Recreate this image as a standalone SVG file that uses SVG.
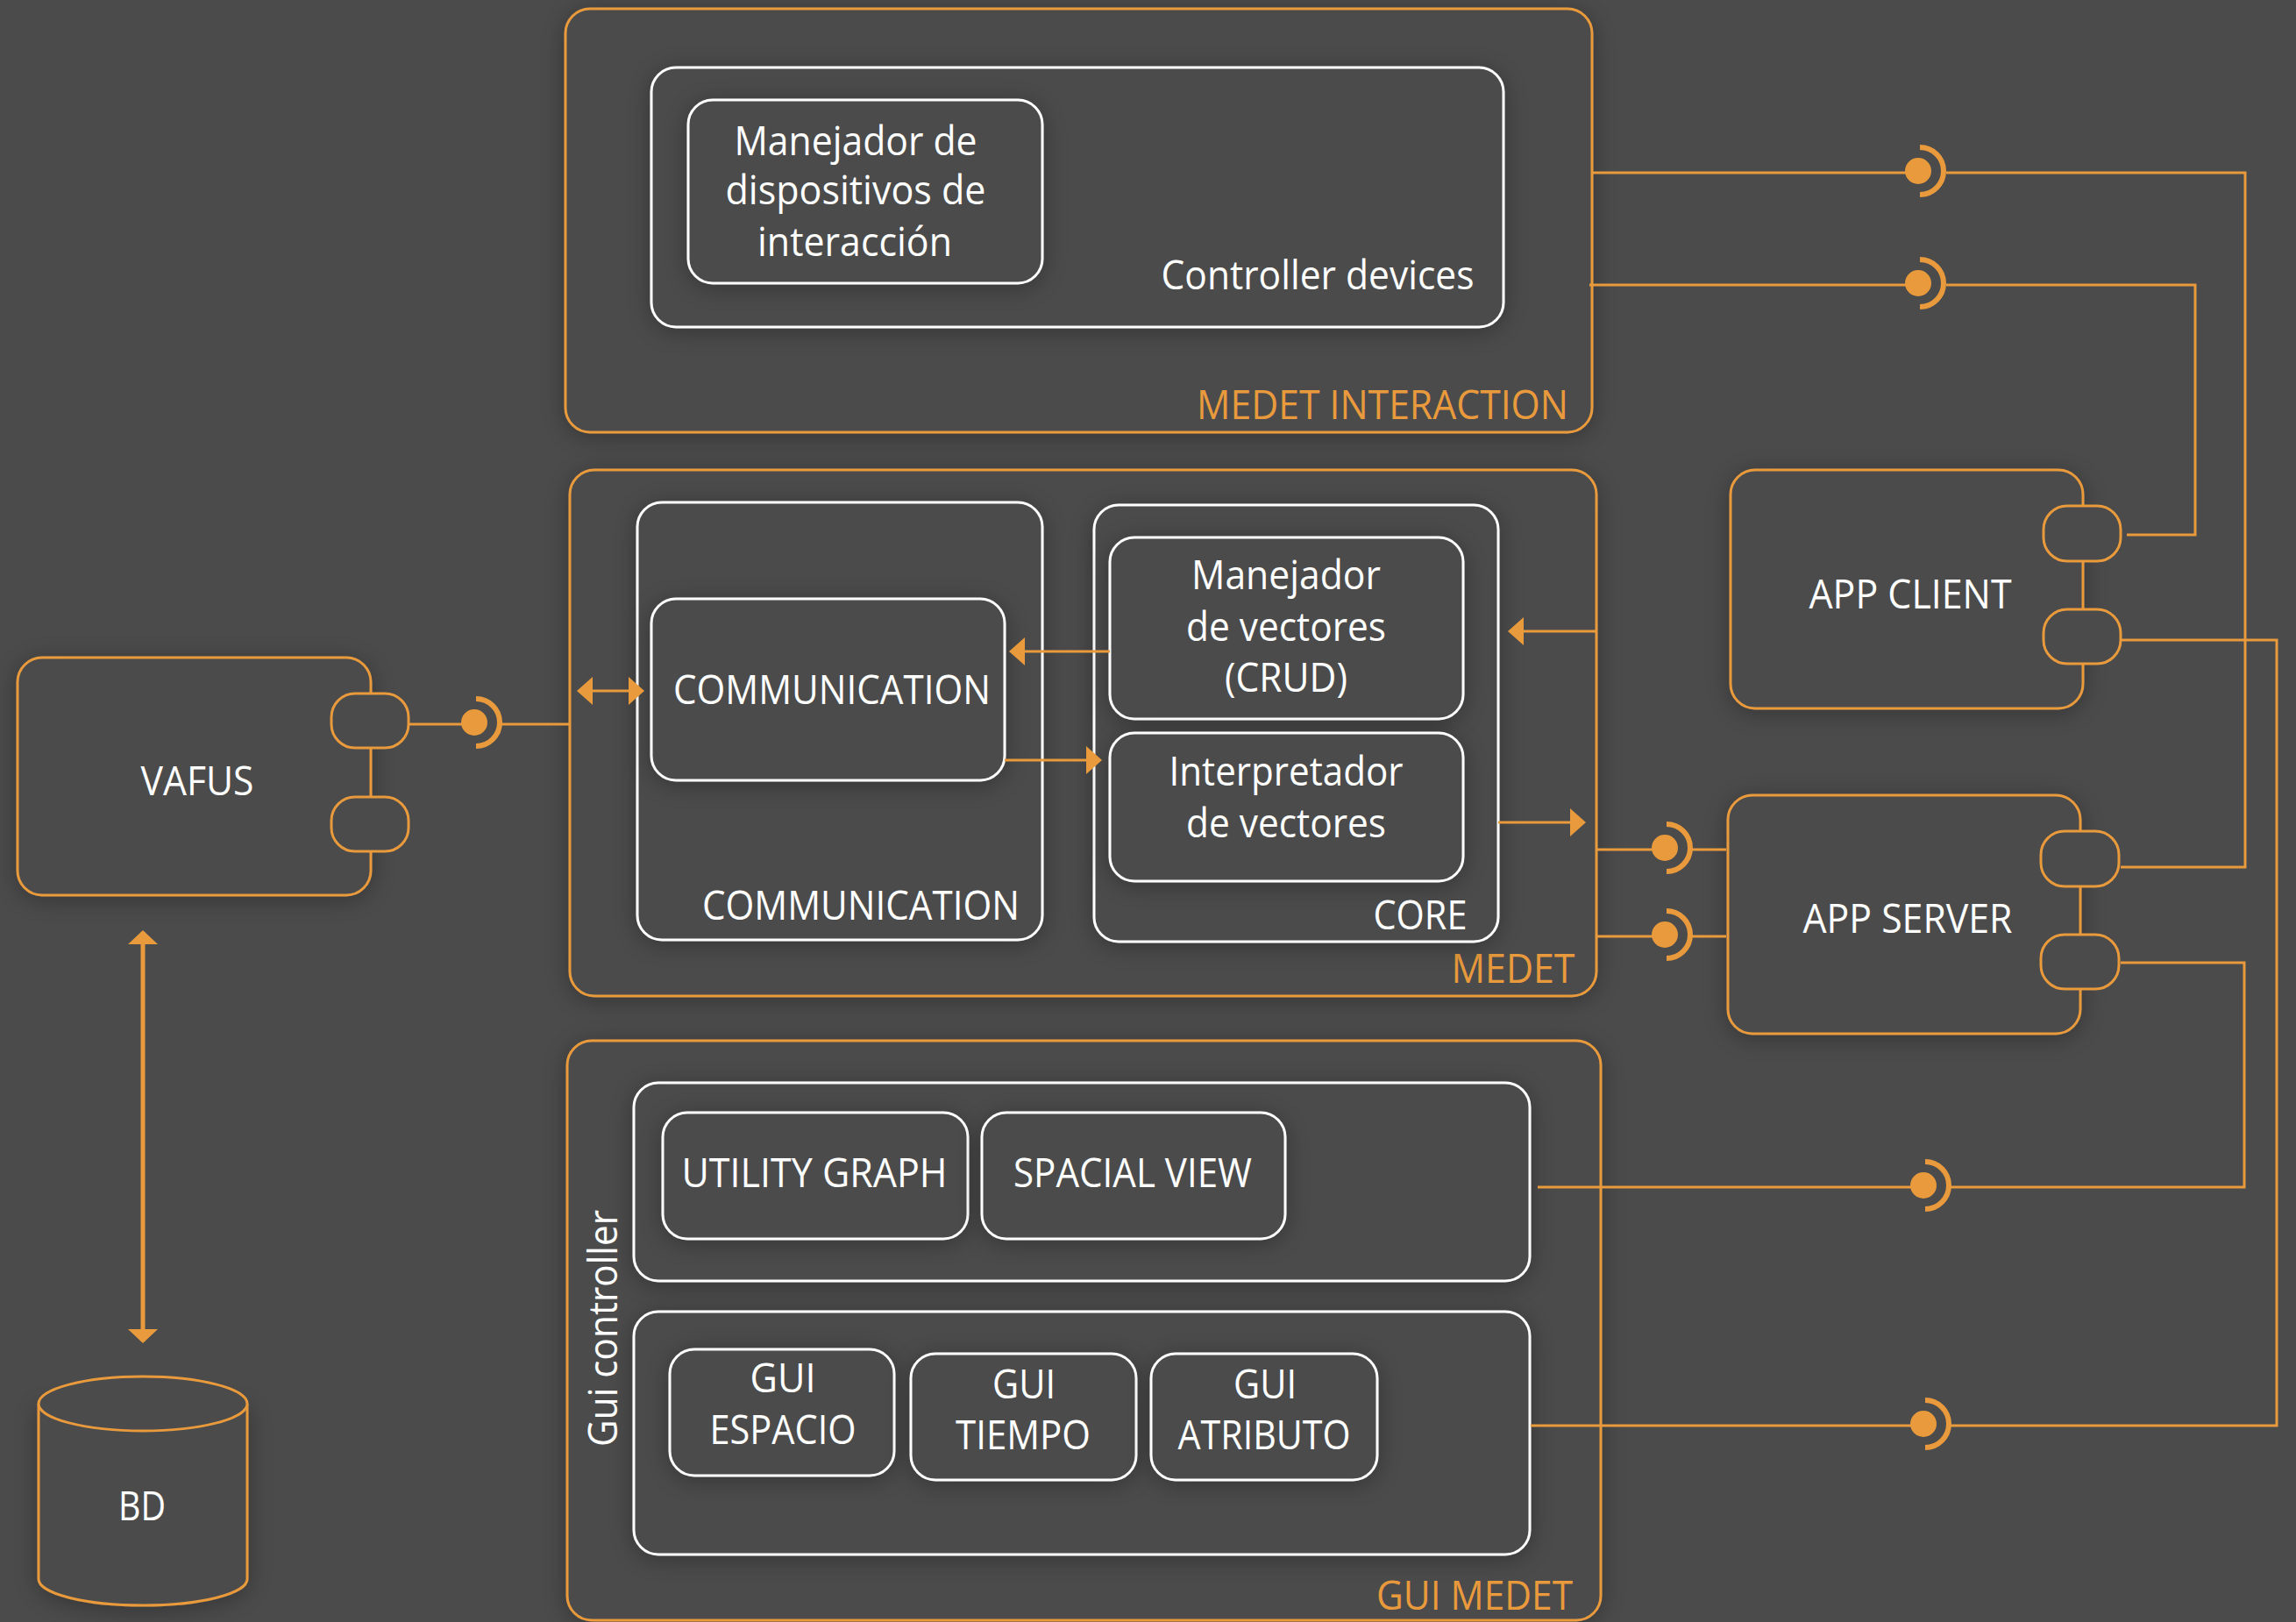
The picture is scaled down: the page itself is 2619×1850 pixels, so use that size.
<svg xmlns="http://www.w3.org/2000/svg" width="2619" height="1850" viewBox="0 0 2619 1850">
<style>
.ob{fill:#4b4b4b;stroke:#e89a3c;stroke-width:3}
.wb{fill:#4b4b4b;stroke:#ffffff;stroke-width:3}
.port{fill:#4b4b4b;stroke:#e89a3c;stroke-width:3}
.ln{fill:none;stroke:#e89a3c;stroke-width:3}
.thick{stroke-width:5}
.t{font-family:"Open Sans","Liberation Sans",sans-serif;font-size:45px;fill:#ffffff;text-anchor:middle}
.o{fill:#e89a3c}
</style>
<defs>
<filter id="sh" x="-20%" y="-20%" width="140%" height="140%">
<feDropShadow dx="0" dy="4" stdDeviation="14" flood-color="#000" flood-opacity="0.3"/>
</filter>
<marker id="ah" viewBox="0 0 18 32" refX="16" refY="16" markerWidth="18" markerHeight="32" markerUnits="userSpaceOnUse" orient="auto-start-reverse">
<path d="M0,0 L18,16 L0,32 Z" fill="#e89a3c"/>
</marker>
<marker id="ah2" viewBox="0 0 16 34" refX="14" refY="17" markerWidth="16" markerHeight="34" markerUnits="userSpaceOnUse" orient="auto-start-reverse">
<path d="M0,0 L16,17 L0,34 Z" fill="#e89a3c"/>
</marker>
<g id="lol">
<circle cx="0" cy="-2" r="15" fill="#e89a3c"/>
<path d="M2,-29 A27,27 0 0 1 2,25" fill="none" stroke="#e89a3c" stroke-width="6"/>
</g>
</defs>
<rect x="0" y="0" width="2619" height="1850" fill="#4b4b4b"/>

<g id="medet-interaction">
<rect class="ob" x="645" y="10" width="1171" height="483" rx="28" filter="url(#sh)"/>
<text class="t o" x="1577" y="478" textLength="424" lengthAdjust="spacingAndGlyphs">MEDET INTERACTION</text>
</g>
<g id="controller-devices">
<rect class="wb" x="743" y="77" width="972" height="296" rx="28" filter="url(#sh)"/>
<text class="t" x="1503" y="330" textLength="357" lengthAdjust="spacingAndGlyphs">Controller devices</text>
</g>
<g id="manejador-dispositivos">
<rect class="wb" x="785" y="114" width="404" height="209" rx="28" filter="url(#sh)"/>
<text class="t" x="976" y="177" textLength="277" lengthAdjust="spacingAndGlyphs">Manejador de</text>
<text class="t" x="976" y="233" textLength="297" lengthAdjust="spacingAndGlyphs">dispositivos de</text>
<text class="t" x="975" y="292" textLength="222" lengthAdjust="spacingAndGlyphs">interacción</text>
</g>

<g id="medet">
<rect class="ob" x="650" y="536" width="1171" height="600" rx="28" filter="url(#sh)"/>
<text class="t o" x="1726" y="1121" textLength="141" lengthAdjust="spacingAndGlyphs">MEDET</text>
</g>
<g id="communication-group">
<rect class="wb" x="727" y="573" width="462" height="499" rx="28" filter="url(#sh)"/>
<text class="t" x="982" y="1049" textLength="362" lengthAdjust="spacingAndGlyphs">COMMUNICATION</text>
</g>
<g id="communication">
<rect class="wb" x="743" y="683" width="403" height="207" rx="28" filter="url(#sh)"/>
<text class="t" x="949" y="803" textLength="362" lengthAdjust="spacingAndGlyphs">COMMUNICATION</text>
</g>
<g id="core">
<rect class="wb" x="1248" y="576" width="461" height="498" rx="28" filter="url(#sh)"/>
<text class="t" x="1620" y="1060" textLength="107" lengthAdjust="spacingAndGlyphs">CORE</text>
</g>
<g id="manejador-vectores">
<rect class="wb" x="1266" y="613" width="403" height="207" rx="28" filter="url(#sh)"/>
<text class="t" x="1467" y="672" textLength="216" lengthAdjust="spacingAndGlyphs">Manejador</text>
<text class="t" x="1467" y="731" textLength="228" lengthAdjust="spacingAndGlyphs">de vectores</text>
<text class="t" x="1467" y="789" textLength="140" lengthAdjust="spacingAndGlyphs">(CRUD)</text>
</g>
<g id="interpretador">
<rect class="wb" x="1266" y="836" width="403" height="169" rx="28" filter="url(#sh)"/>
<text class="t" x="1467" y="896" textLength="267" lengthAdjust="spacingAndGlyphs">Interpretador</text>
<text class="t" x="1467" y="955" textLength="228" lengthAdjust="spacingAndGlyphs">de vectores</text>
</g>

<g id="gui-medet">
<rect class="ob" x="647" y="1187" width="1179" height="661" rx="28" filter="url(#sh)"/>
<text class="t o" x="1682" y="1836" textLength="224" lengthAdjust="spacingAndGlyphs">GUI MEDET</text>
<text class="t" transform="translate(704,1515) rotate(-90)" x="0" y="0" textLength="270" lengthAdjust="spacingAndGlyphs">Gui controller</text>
</g>
<g id="gui-views">
<rect class="wb" x="723" y="1235" width="1022" height="226" rx="28" filter="url(#sh)"/>
</g>
<g id="utility-graph">
<rect class="wb" x="756" y="1269" width="348" height="144" rx="28" filter="url(#sh)"/>
<text class="t" x="929" y="1354" textLength="303" lengthAdjust="spacingAndGlyphs">UTILITY GRAPH</text>
</g>
<g id="spacial-view">
<rect class="wb" x="1120" y="1269" width="346" height="144" rx="28" filter="url(#sh)"/>
<text class="t" x="1292" y="1354" textLength="272" lengthAdjust="spacingAndGlyphs">SPACIAL VIEW</text>
</g>
<g id="gui-panels">
<rect class="wb" x="723" y="1496" width="1022" height="277" rx="28" filter="url(#sh)"/>
</g>
<g id="gui-espacio">
<rect class="wb" x="764" y="1539" width="256" height="144" rx="28" filter="url(#sh)"/>
<text class="t" x="893" y="1588" textLength="75" lengthAdjust="spacingAndGlyphs">GUI</text>
<text class="t" x="893" y="1647" textLength="167" lengthAdjust="spacingAndGlyphs">ESPACIO</text>
</g>
<g id="gui-tiempo">
<rect class="wb" x="1039" y="1544" width="257" height="144" rx="28" filter="url(#sh)"/>
<text class="t" x="1168" y="1595" textLength="72" lengthAdjust="spacingAndGlyphs">GUI</text>
<text class="t" x="1167" y="1653" textLength="154" lengthAdjust="spacingAndGlyphs">TIEMPO</text>
</g>
<g id="gui-atributo">
<rect class="wb" x="1313" y="1544" width="258" height="144" rx="28" filter="url(#sh)"/>
<text class="t" x="1443" y="1595" textLength="72" lengthAdjust="spacingAndGlyphs">GUI</text>
<text class="t" x="1442" y="1653" textLength="197" lengthAdjust="spacingAndGlyphs">ATRIBUTO</text>
</g>

<g id="vafus">
<rect class="ob" x="20" y="750" width="403" height="271" rx="28" filter="url(#sh)"/>
<rect class="port" x="378" y="791" width="88" height="62" rx="27"/>
<rect class="port" x="378" y="909" width="88" height="62" rx="27"/>
<text class="t" x="225" y="907" textLength="129" lengthAdjust="spacingAndGlyphs">VAFUS</text>
</g>

<g id="app-client">
<rect class="ob" x="1974" y="536" width="402" height="272" rx="28" filter="url(#sh)"/>
<rect class="port" x="2331" y="577" width="88" height="63" rx="27"/>
<rect class="port" x="2331" y="695" width="88" height="62" rx="27"/>
<text class="t" x="2179" y="694" textLength="231" lengthAdjust="spacingAndGlyphs">APP CLIENT</text>
</g>

<g id="app-server">
<rect class="ob" x="1971" y="907" width="402" height="272" rx="28" filter="url(#sh)"/>
<rect class="port" x="2328" y="948" width="89" height="63" rx="27"/>
<rect class="port" x="2328" y="1066" width="89" height="62" rx="27"/>
<text class="t" x="2176" y="1064" textLength="239" lengthAdjust="spacingAndGlyphs">APP SERVER</text>
</g>

<g id="bd">
<path d="M44,1601 V1801 A119,30 0 0 0 282,1801 V1601" fill="#4b4b4b" stroke="#e89a3c" stroke-width="3" filter="url(#sh)"/>
<ellipse cx="163" cy="1601" rx="119" ry="31" fill="#4b4b4b" stroke="#e89a3c" stroke-width="3"/>
<text class="t" x="162" y="1734" textLength="54" lengthAdjust="spacingAndGlyphs">BD</text>
</g>

<g id="connectors">
<path class="ln" d="M1816,197 H2188 M2220,197 H2561 V989 H2419"/>
<path class="ln" d="M1813,325 H2188 M2220,325 H2504 V610 H2426"/>
<path class="ln" d="M2419,730 H2597 V1626 H2220 M2194,1626 H1746"/>
<path class="ln" d="M2419,1098 H2560 V1354 H2220 M2194,1354 H1754"/>
<path class="ln" d="M466,826 H541 M571,826 H650"/>
<path class="ln" d="M1821,969 H1899 M1930,969 H1969"/>
<path class="ln" d="M1821,1068 H1899 M1930,1068 H1969"/>
<use href="#lol" x="2188" y="197"/>
<use href="#lol" x="2188" y="325"/>
<use href="#lol" x="2194" y="1626"/>
<use href="#lol" x="2194" y="1354"/>
<use href="#lol" x="541" y="826"/>
<use href="#lol" x="1899" y="969"/>
<use href="#lol" x="1899" y="1068"/>
<path class="ln" d="M1266,743 H1153" marker-end="url(#ah)"/>
<path class="ln" d="M1146,867 H1255" marker-end="url(#ah)"/>
<path class="ln" d="M1821,720 H1722" marker-end="url(#ah)"/>
<path class="ln" d="M1709,938 H1807" marker-end="url(#ah)"/>
<path class="ln" d="M660,788 H733" marker-start="url(#ah)" marker-end="url(#ah)"/>
<path class="ln thick" d="M163,1063 V1530" marker-start="url(#ah2)" marker-end="url(#ah2)"/>
</g>
</svg>
